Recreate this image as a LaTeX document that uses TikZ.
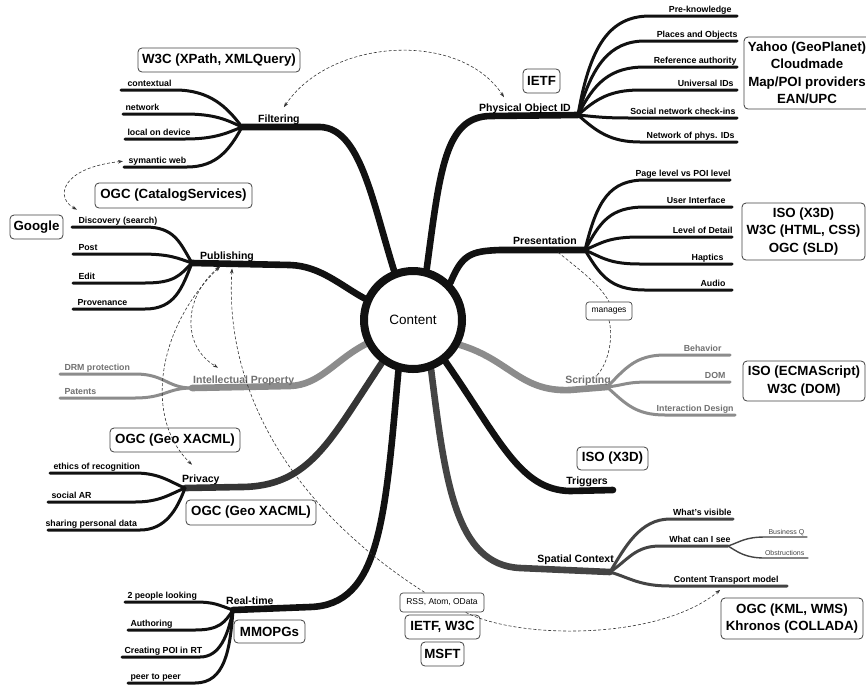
\documentclass[tikz,border=0pt]{standalone}
\usepackage{fontspec}
\setmainfont{Liberation Sans}
\usetikzlibrary{arrows.meta,calc}
\pgfdeclarelayer{bg}
\pgfsetlayers{bg,main}
\definecolor{ink}{HTML}{111111}
\definecolor{grayb}{HTML}{8C8C8C}
\definecolor{darkb}{HTML}{444444}
\definecolor{grayt}{HTML}{707070}
\newcommand\mmleaf[9]{\draw[#1] (#2) .. controls +(#3) and +(#5) .. (#4) -- (#6) node[#7] (#9) {#8};}
\begin{document}
\begin{tikzpicture}[x=1pt,y=-1pt,
  >={Stealth[length=5pt,width=3.5pt]},
  br/.style={line width=6.6pt,line cap=round,draw=ink},
  sub/.style={line width=3pt,line cap=round,draw=ink},
  subg/.style={sub,draw=grayb},
  subd/.style={sub,draw=darkb},
  thn/.style={line width=1.4pt,line cap=round,draw=darkb},
  lfl/.style={anchor=base west,inner sep=0pt,xshift=3pt,yshift=3.5pt,font=\fontsize{8.8}{10}\selectfont\bfseries},
  lflg/.style={lfl,text=grayt},
  lfr/.style={anchor=base east,inner sep=0pt,xshift=-2pt,yshift=3.5pt,font=\fontsize{8.8}{10}\selectfont\bfseries},
  lfrg/.style={lfr,text=grayt},
  lfs/.style={anchor=base east,inner sep=0pt,xshift=-2pt,yshift=3pt,font=\fontsize{7}{8}\selectfont,text=darkb},
  bl/.style={inner sep=0pt,font=\fontsize{10.5}{12}\selectfont\bfseries},
  bx/.style={draw=black!75,line width=0.8pt,rounded corners=4pt,align=center,inner sep=0pt,font=\fontsize{13.3}{17.5}\selectfont\bfseries},
  bxs/.style={draw=black!75,line width=0.7pt,rounded corners=3pt,align=center,inner sep=0pt,font=\fontsize{8.5}{10}\selectfont},
  dbase/.style={draw=black!80,line width=0.6pt,dash pattern=on 3pt off 2pt},
]
\useasboundingbox (0,0) rectangle (866,686);

\node[circle,draw=ink,line width=8pt,minimum size=98pt,inner sep=0pt,fill=white,font=\fontsize{13.5}{16}\selectfont] (content) at (413,320) {Content};

\coordinate (fH) at (242,127);
\coordinate (pH) at (578,115);
\coordinate (prH) at (585,250);
\coordinate (sH) at (607,387);
\coordinate (tE) at (613,490);
\coordinate (spH) at (610,572);
\coordinate (rH) at (233,610);
\coordinate (pvH) at (185,488);
\coordinate (iH) at (192,388);
\coordinate (puH) at (192,263);
\coordinate (wH) at (728,546);

\begin{pgfonlayer}{bg}
\draw[br] (content.111) .. controls (372,200) and (360,128) .. (320,127) -- (fH);
\draw[br] (content.75) .. controls (440,170) and (445,117) .. (490,116) -- (pH);
\draw[br] (content.45) .. controls (462,255) and (470,251) .. (500,250) -- (prH);
\draw[br,draw=grayb] (content.-28) .. controls (510,360) and (520,392) .. (570,390) -- (sH);
\draw[br] (content.-52) .. controls (500,440) and (520,490) .. (570,491) -- (tE);
\draw[br,draw=darkb] (content.-70) .. controls (445,480) and (455,565) .. (520,568) -- (spH);
\draw[br] (content.-106) .. controls (385,520) and (380,605) .. (310,607) -- (rH);
\draw[br,draw=ink!85] (content.-126) .. controls (330,440) and (310,487) .. (240,487) -- (pvH);
\draw[br,draw=grayb] (content.-153) .. controls (335,360) and (320,385) .. (290,386) -- (iH);
\draw[br] (content.156) .. controls (340,285) and (320,266) .. (290,265) -- (puH);
\end{pgfonlayer}

% branch labels
\node[bl,anchor=base west] (lFilt) at (258,122) {Filtering};
\node[bl,anchor=base east] (lPOID) at (571,111) {Physical Object ID};
\node[bl,anchor=base west] (lPub) at (200,259) {Publishing};
\node[bl,anchor=base west,text=grayt] (lIP) at (193,383.5) {Intellectual Property};
\node[bl,anchor=base west] (lPriv) at (182,482.5) {Privacy};
\node[bl,anchor=base west] (lRT) at (226,604.5) {Real-time};
\node[bl,anchor=base east] (lPres) at (577,244.5) {Presentation};
\node[bl,anchor=base east,text=grayt] (lScr) at (611,383) {Scripting};
\node[bl,anchor=base east] (lTrig) at (608,484.5) {Triggers};
\node[bl,anchor=base east] (lSpC) at (614,562.5) {Spatial Context};

% Filtering
\mmleaf{sub}{fH}{-15,-20}{175,90}{35,0}{121,90}{lfl,xshift=2pt}{contextual}{lCtx}
\mmleaf{sub}{fH}{-15,-7}{185,114}{30,0}{123,114}{lfl,xshift=-2pt}{network}{lNet}
\mmleaf{sub}{fH}{-15,6}{185,139}{30,0}{125,139}{lfl,xshift=-2pt}{local on device}{lLoc}
\mmleaf{sub}{fH}{-12,22}{187,167}{30,0}{124,167}{lfl}{symantic web}{lSym}
% Physical Object ID
\mmleaf{sub}{pH}{12,-70}{650,16}{-40,0}{737,16}{lfr,xshift=-2pt}{Pre-knowledge}{lPre}
\mmleaf{sub}{pH}{14,-50}{645,41}{-35,0}{737,41}{lfr,xshift=4pt}{Places and Objects}{lPlc}
\mmleaf{sub}{pH}{16,-32}{645,67}{-35,0}{737,67}{lfr,xshift=3pt}{Reference authority}{lRef}
\mmleaf{sub}{pH}{18,-16}{640,90}{-30,0}{737,90}{lfr}{Universal IDs}{lUni}
\mmleaf{sub}{pH}{20,2}{630,118}{-25,0}{737,118}{lfr,xshift=2pt}{Social network check-ins}{lSoc}
\mmleaf{sub}{pH}{18,16}{640,142}{-30,0}{737,142}{lfr,xshift=1pt}{Network of phys. IDs}{lNop}
% Presentation
\mmleaf{sub}{prH}{12,-50}{645,180}{-35,0}{730,180}{lfr,xshift=4pt}{Page level vs POI level}{lPage}
\mmleaf{sub}{prH}{15,-28}{645,207}{-35,0}{732,207}{lfr,xshift=-3pt}{User Interface}{lUI}
\mmleaf{sub}{prH}{18,-8}{640,237}{-30,0}{732,237}{lfr,xshift=4pt}{Level of Detail}{lLoD}
\mmleaf{sub}{prH}{18,8}{640,264}{-30,0}{732,264}{lfr,xshift=-5pt}{Haptics}{lHap}
\mmleaf{sub}{prH}{15,25}{645,290}{-35,0}{732,290}{lfr,xshift=-3pt}{Audio}{lAud}
% Scripting
\mmleaf{subg}{sH}{18,-18}{665,355}{-30,0}{730,355}{lfrg,xshift=-5pt}{Behavior}{lBeh}
\mmleaf{subg}{sH}{18,-2}{650,382}{-25,0}{730,382}{lfrg,xshift=-1pt}{DOM}{lDOM}
\mmleaf{subg}{sH}{18,16}{665,415}{-30,0}{735,415}{lfrg,xshift=2pt}{Interaction Design}{lIxD}
% Spatial Context
\mmleaf{subd}{spH}{15,-25}{670,519}{-30,0}{733,519}{lfr,xshift=2pt}{What's visible}{lVis}
\mmleaf{subd}{spH}{18,-12}{660,546}{-25,0}{728,546}{lfr,xshift=6pt}{What can I see}{lSee}
\mmleaf{subd}{spH}{20,6}{670,586}{-30,0}{787,586}{lfr,xshift=-5pt}{Content Transport model}{lCT}
\mmleaf{thn}{wH}{12,-4}{765,537}{-20,0}{807,537}{lfs}{Business Q}{lBQ}
\mmleaf{thn}{wH}{10,6}{765,558}{-20,0}{808,558}{lfs,xshift=-1pt}{Obstructions}{lObs}
% Publishing
\mmleaf{sub}{puH}{-12,-20}{145,227}{30,0}{72,227}{lfl,xshift=2pt}{Discovery (search)}{lDisc}
\mmleaf{sub}{puH}{-15,-5}{140,254}{30,0}{73,254}{lfl,xshift=1pt}{Post}{lPost}
\mmleaf{sub}{puH}{-12,12}{145,283}{30,0}{73,283}{lfl,xshift=1pt}{Edit}{lEdit}
\mmleaf{sub}{puH}{-10,25}{145,309}{30,0}{73,309}{lfl}{Provenance}{lProv}
% Intellectual Property
\mmleaf{subg}{iH}{-25,0}{135,374}{30,0}{60,374}{lflg}{DRM protection}{lDRM}
\mmleaf{subg}{iH}{-25,0}{135,398}{30,0}{60,398}{lflg}{Patents}{lPat}
% Privacy
\mmleaf{sub}{pvH}{-15,-6}{135,473}{25,0}{50,473}{lfl,xshift=-1pt}{ethics of recognition}{lEth}
\mmleaf{sub}{pvH}{-15,6}{135,502}{25,0}{48,502}{lfl,xshift=-1pt}{social AR}{lSAR}
\mmleaf{sub}{pvH}{-8,22}{140,530}{25,0}{48,530}{lfl,xshift=-7pt}{sharing personal data}{lShr}
% Real-time
\mmleaf{sub}{rH}{-15,-5}{195,602}{20,0}{125,602}{lfl,xshift=-2pt}{2 people looking}{l2p}
\mmleaf{sub}{rH}{-8,12}{195,630}{25,0}{128,630}{lfl,xshift=-2pt}{Authoring}{lAuth}
\mmleaf{sub}{rH}{-5,25}{200,657}{20,0}{122,657}{lfl,xshift=-2pt}{Creating POI in RT}{lCPOI}
\mmleaf{sub}{rH}{-3,40}{195,683}{30,0}{128,683}{lfl,xshift=-2pt}{peer to peer}{lP2P}

% standards boxes
\node[bx,minimum width=162pt,minimum height=24pt] (bW3C) at (219,60) {W3C (XPath, XMLQuery)};
\node[bx,minimum width=37pt,minimum height=24pt] (bIETF) at (541.5,81) {IETF};
\node[bx,minimum width=126pt,minimum height=72pt] (bYahoo) at (807,73) {Yahoo (GeoPlanet)\\Cloudmade\\Map/POI providers\\EAN/UPC};
\node[bx,minimum width=157pt,minimum height=25pt] (bCat) at (173.5,195.5) {OGC (CatalogServices)};
\node[bx,minimum width=53pt,minimum height=24pt] (bGoogle) at (36.5,227) {Google};
\node[bx,minimum width=123pt,minimum height=57pt] (bX3D) at (803.5,231.5) {ISO (X3D)\\W3C (HTML, CSS)\\OGC (SLD)};
\node[bx,minimum width=122pt,minimum height=40pt] (bECMA) at (804,381) {ISO (ECMAScript)\\W3C (DOM)};
\node[bx,minimum width=130pt,minimum height=24pt] (bXA1) at (175,440) {OGC (Geo XACML)};
\node[bx,minimum width=130pt,minimum height=25pt] (bXA2) at (251,512.5) {OGC (Geo XACML)};
\node[bx,minimum width=71pt,minimum height=23pt] (bX3Dt) at (612.5,458.5) {ISO (X3D)};
\node[bx,minimum width=71pt,minimum height=23pt] (bMMO) at (269.5,631.5) {MMOPGs};
\node[bx,minimum width=75pt,minimum height=24pt] (bIW) at (442.5,627) {IETF, W3C};
\node[bx,minimum width=43pt,minimum height=24pt] (bMSFT) at (442.5,654) {MSFT};
\node[bx,minimum width=142pt,minimum height=41pt] (bKML) at (792,618.5) {OGC (KML, WMS)\\Khronos (COLLADA)};
\node[bxs,minimum width=84pt,minimum height=19pt] (rss) at (442,602.5) {RSS, Atom, OData};
\node[bxs,minimum width=46pt,minimum height=18pt] (mng) at (609,311) {manages};

% dashed relations
\draw[dbase,<->] ([shift={(5,-7)}]lFilt.north) .. controls (330,38) and (460,30) .. ([shift={(25,-6)}]lPOID.north west);
\draw[dbase,<->] ([shift={(-4,0)}]lSym.west) .. controls (60,168) and (55,198) .. ([shift={(0,-6)}]lDisc.north west);
\draw[dbase,<->] ([shift={(-7,5)}]lPub.south) .. controls (185,295) and (180,345) .. ([shift={(25,-8)}]lIP.north west);
\draw[dbase,<->] ([shift={(-7,5)}]lPub.south) .. controls (155,330) and (145,420) .. ([shift={(10,-10)}]lPriv.north west);
\draw[dbase,<-] ([shift={(5,7)}]lPub.south) .. controls (225,380) and (280,500) .. ($(rss.north west)!0.3!(rss.north east)$);
\draw[dbase,->] ($(rss.south west)!0.78!(rss.south east)$) .. controls (520,640) and (660,640) .. ([shift={(-6,4)}]lCT.south);
\draw[dbase] ([shift={(13,7.5)}]lPres.south) .. controls (580,270) and (600,285) .. (mng.north);
\draw[dbase] (mng.south) .. controls (614,340) and (607,365) .. ([shift={(9,0)}]lScr.north);
\end{tikzpicture}
\end{document}
